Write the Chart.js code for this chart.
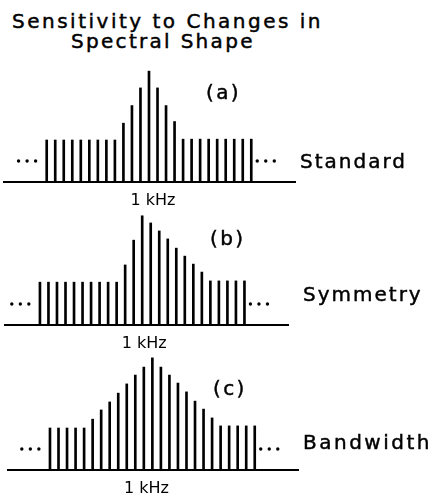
<!DOCTYPE html>
<html>
<head>
<meta charset="utf-8">
<script src="https://cdn.jsdelivr.net/npm/chart.js@4"></script>
<style>
  html, body { margin: 0; padding: 0; background: #fff; }
  body { width: 432px; height: 496px; position: relative; overflow: hidden; }
  canvas { position: absolute; left: 0; }
  .t { position: absolute; font-family: "DejaVu Sans", sans-serif; font-size: 20px; line-height: 20px; color: #000; white-space: nowrap; letter-spacing: 2.4px; -webkit-text-stroke: 0.45px #000; }
</style>
</head>
<body>
<div class="t" style="left:12px;top:11px;letter-spacing:2.5px">Sensitivity to Changes in</div>
<div class="t" style="left:71px;top:31px;letter-spacing:2.3px">Spectral Shape</div>

<canvas id="pa" width="432" height="150" style="top:62px"></canvas>
<canvas id="pb" width="432" height="150" style="top:205px"></canvas>
<canvas id="pc" width="432" height="150" style="top:350px"></canvas>

<div class="t" style="left:206px;top:82px">(a)</div>
<div class="t" style="left:210px;top:228px">(b)</div>
<div class="t" style="left:213px;top:378px">(c)</div>
<div class="t" style="left:300px;top:151px;letter-spacing:2px">Standard</div>
<div class="t" style="left:303px;top:284px;letter-spacing:2px">Symmetry</div>
<div class="t" style="left:303px;top:432px;letter-spacing:2.5px">Bandwidth</div>

<script>
// harmonic number relative to the 1 kHz component
const harmonics = [-12,-11,-10,-9,-8,-7,-6,-5,-4,-3,-2,-1,0,1,2,3,4,5,6,7,8,9,10,11,12];

// relative amplitude of each component (flat part ~ 10)
const standard  = [10,10,10,10,10,10,10,10,10,14,18.2,22.4,26.4,22.4,18.2,14.4,10.2,10.2,10.2,10.2,10.2,10.2,10.2,10.2,10.2];
const symmetry  = [10.2,10.2,10.2,10.2,10.2,10.2,10.2,10.2,10.2,10.2,14.3,20.2,26,24.3,22.4,20.5,18.3,16.4,14.5,12.6,10.5,10.5,10.5,10.5,10.5];
const bandwidth = [10,10,10,10,10,12.1,14.3,16.2,18.3,20.5,22.6,24.5,26.7,24.5,22.6,20.7,18.6,16.4,14.5,12.4,10.5,10.5,10.5,10.5,10.5];

const centerLabel = '1 kHz';
// "..." continuation marks, in harmonic units
const moreLeft  = [-15.3,-14.3,-13.3];
const moreRight = [12.7,13.7,14.7];
const moreLevel = 5;

const dots = {
    id: 'dots',
    afterDatasetsDraw(chart) {
        const ctx = chart.ctx, x = chart.scales.x, y = chart.scales.y;
        ctx.save();
        ctx.fillStyle = '#000';
        moreLeft.concat(moreRight).forEach(v => {
            ctx.beginPath();
            ctx.arc(x.getPixelForValue(v), y.getPixelForValue(moreLevel), 1.7, 0, Math.PI * 2);
            ctx.fill();
        });
        ctx.restore();
    }
};

function panel(id, values, xmin, xmax, left, right, shift) {
    return new Chart(document.getElementById(id), {
        type: 'bar',
        data: {
            datasets: [{
                data: harmonics.map((h, i) => ({x: h, y: values[i]})),
                backgroundColor: '#000',
                barThickness: 2
            }]
        },
        options: {
            responsive: false,
            animation: false,
            layout: {padding: {left: left, right: 432 - right, top: 0, bottom: 0}},
            plugins: {legend: {display: false}, tooltip: {enabled: false}},
            scales: {
                x: {
                    type: 'linear',
                    offset: false,
                    min: xmin,
                    max: xmax,
                    grid: {display: false, drawTicks: false},
                    border: {display: true, color: '#000', width: 2},
                    ticks: {
                        color: '#000',
                        font: {family: 'DejaVu Sans', size: 16},
                        padding: 9.5,
                        labelOffset: shift,
                        maxRotation: 0,
                        callback: v => v === 0 ? centerLabel : ''
                    },
                    afterBuildTicks: s => { s.ticks = [{value: 0}]; },
                    afterFit: s => { s.height = 30; }
                },
                y: {display: false, min: 0, max: 28.57}
            }
        },
        plugins: [dots]
    });
}

panel('pa', standard, -17.01, 17.13, 4, 295, 4);
panel('pb', symmetry, -16.10, 17.11, 5, 288, 2);
panel('pc', bandwidth, -16.92, 17.07, 8, 298, -6);
</script>
</body>
</html>
